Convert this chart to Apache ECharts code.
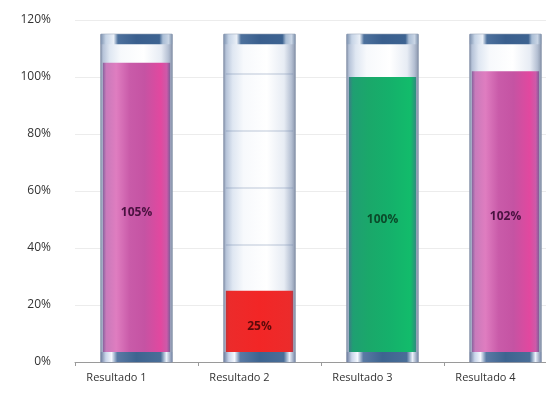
<!DOCTYPE html>
<html>
<head>
<meta charset="utf-8">
<script src="https://cdn.jsdelivr.net/npm/echarts@6/dist/echarts.min.js"></script>
<style>
  html, body { margin: 0; padding: 0; background: #fff; overflow: hidden; }
  #chart { width: 546px; height: 398px; }
</style>
</head>
<body>
<div id="chart"></div>
<script>
// Results shown as glass tubes filled to each percentage
const categories = ['Resultado 1', 'Resultado 2', 'Resultado 3', 'Resultado 4'];
const values = [105, 25, 100, 102];
const fillTones = ['magenta', 'red', 'green', 'magenta'];
const yTicks = [0, 20, 40, 60, 80, 100, 120];
const tubeMax = 115;

const grad = (stops) => ({
  type: 'linear', x: 0, y: 0, x2: 1, y2: 0,
  colorStops: stops.map(([o, c]) => ({ offset: o, color: c }))
});

const fills = {
  magenta: grad([[0, '#86619c'], [0.05, '#c97abb'], [0.2, '#df7dc0'], [0.4, '#c95ba9'], [0.62, '#c553a3'], [0.86, '#e2489f'], [0.95, '#cc5aa9'], [1, '#7c5c98']]),
  red: grad([[0, '#c23436'], [0.05, '#ec2b2b'], [0.5, '#f22626'], [0.95, '#ec2b2b'], [1, '#b23a4a']]),
  green: grad([[0, '#3d7b86'], [0.06, '#1f9f72'], [0.3, '#1aa86a'], [0.6, '#15b06b'], [0.92, '#12bc6b'], [1, '#2f8a80']])
};
const labelColors = { magenta: '#4a1240', red: '#5c0a0a', green: '#0b4a2a' };

const glass = grad([[0, '#8a97ae'], [0.04, '#b7c4d9'], [0.13, '#dfe7f2'], [0.28, '#f7f9fc'], [0.6, '#ffffff'], [0.84, '#e7ecf4'], [0.94, '#b5c0d3'], [1, '#8995ab']]);
const topCap = grad([[0, '#7f93b0'], [0.07, '#c6d4e6'], [0.18, '#e9eff7'], [0.24, '#4d719d'], [0.5, '#3a5f8e'], [0.82, '#3d6391'], [0.87, '#a9bdd5'], [0.95, '#c9d5e5'], [1, '#8093ad']]);
const bottomCap = grad([[0, '#6f7fa0'], [0.07, '#c9d5ea'], [0.15, '#f5f9ff'], [0.23, '#5a7aa4'], [0.5, '#3d6490'], [0.84, '#4a6e98'], [0.92, '#eaf1fa'], [1, '#7888a8']]);

function renderTube(params, api) {
  const idx = api.value(0);
  const val = api.value(1);
  const tone = fillTones[idx];
  const base = api.coord([idx, 0]);
  const top = api.coord([idx, tubeMax]);
  const level = api.coord([idx, val]);
  const bandW = api.size([1, 0])[0];
  const w = bandW * 0.58;
  const x = base[0] - w / 2;
  const capH = 10;
  const children = [];

  // glass body
  children.push({ type: 'rect', shape: { x: x, y: top[1], width: w, height: base[1] - top[1] }, style: { fill: glass, stroke: '#8390a8', lineWidth: 1 } });

  // scale lines seen through the empty glass
  yTicks.forEach(t => {
    if (t > val && t < tubeMax) {
      const p = api.coord([idx, t]);
      children.push({ type: 'line', shape: { x1: x + 2, y1: p[1] - 3, x2: x + w - 2, y2: p[1] - 3 }, style: { stroke: 'rgba(110,135,170,0.45)', lineWidth: 1 } });
    }
  });

  // liquid
  children.push({ type: 'rect', shape: { x: x + 2, y: level[1], width: w - 4, height: base[1] - level[1] }, style: { fill: fills[tone] } });

  // caps
  children.push({ type: 'rect', shape: { x: x, y: top[1], width: w, height: capH }, style: { fill: topCap } });
  children.push({ type: 'rect', shape: { x: x, y: base[1] - capH, width: w, height: capH }, style: { fill: bottomCap } });

  // value label in the middle of the liquid
  const mid = api.coord([idx, val / 2]);
  children.push({
    type: 'text',
    style: {
      text: val + '%', x: base[0], y: mid[1],
      align: 'center', verticalAlign: 'middle',
      fill: labelColors[tone], font: 'bold 12px "Open Sans", sans-serif'
    }
  });
  return { type: 'group', children: children };
}

const chart = echarts.init(document.getElementById('chart'), null, { renderer: 'canvas' });
chart.setOption({
  animation: false,
  grid: { left: 75, top: 20, width: 492, height: 342, outerBoundsMode: 'none', containLabel: false },
  xAxis: {
    type: 'category',
    data: categories,
    axisLine: { lineStyle: { color: '#9a9a9a' } },
    axisTick: { show: true, length: 4, lineStyle: { color: '#9a9a9a' } },
    axisLabel: { color: '#333', fontSize: 11, fontFamily: 'Open Sans', margin: 10, padding: [0, 40, 0, 0] }
  },
  yAxis: {
    type: 'value',
    min: yTicks[0],
    max: yTicks[yTicks.length - 1],
    interval: 20,
    axisLine: { show: false },
    axisTick: { show: false },
    axisLabel: { color: '#333', fontSize: 12, fontFamily: 'Open Sans', margin: 24, formatter: '{value}%' },
    splitLine: { lineStyle: { color: '#ececec' } }
  },
  series: [{
    type: 'custom',
    renderItem: renderTube,
    data: values.map((v, i) => [i, v]),
    clip: false
  }]
});
</script>
</body>
</html>
